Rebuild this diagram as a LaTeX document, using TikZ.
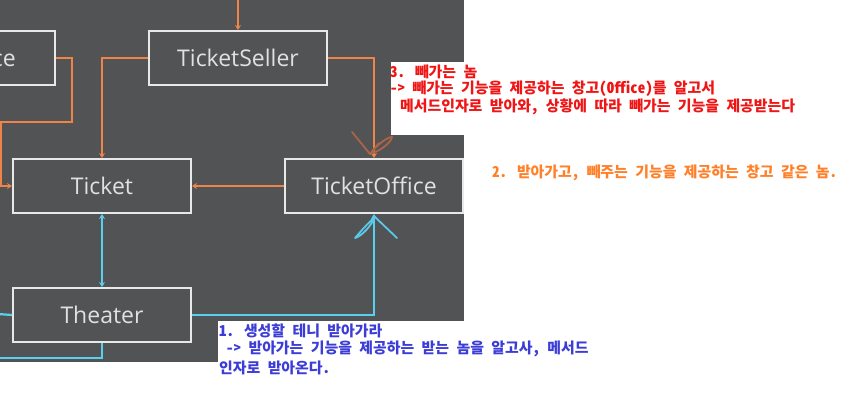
\documentclass[tikz,border=0pt]{standalone}
\usepackage{fontspec}
\setmainfont{Open Sans}
\newfontfamily\kr[CharacterWidth=Half]{Noto Sans CJK KR}
\usetikzlibrary{arrows.meta}
\definecolor{bg}{RGB}{82,83,85}
\definecolor{boxline}{RGB}{232,232,232}
\definecolor{boxtext}{RGB}{225,225,225}
\definecolor{oline}{RGB}{238,132,72}
\definecolor{cline}{RGB}{88,208,240}
\definecolor{brownmark}{RGB}{170,100,72}
\definecolor{cyanmark}{RGB}{90,200,230}
\definecolor{redtxt}{RGB}{240,20,20}
\definecolor{orangetxt}{RGB}{255,128,40}
\definecolor{bluetxt}{RGB}{60,60,215}
\tikzset{
  box/.style={draw=boxline, line width=2pt, minimum width=178, minimum height=54, inner sep=0pt,
    text=boxtext, font=\fontsize{23}{26}\selectfont},
  oconn/.style={draw=oline, line width=2.2pt},
  cconn/.style={draw=cline, line width=2.2pt},
  tip/.style={-{Stealth[length=5pt,width=6pt]}},
  note/.style={anchor=west, inner sep=0pt, font=\kr\fontsize{14.9}{17}\selectfont},
  handmark/.style={line width=1.8pt, line cap=round, line join=round}
}
\begin{document}
\begin{tikzpicture}[x=1pt,y=-1pt]
\useasboundingbox (0,0) rectangle (856,408);
\clip (0,0) rectangle (856,408);
\fill[white] (0,0) rectangle (856,408);
\fill[bg] (0,0) rectangle (464,362);

% boxes
\node[box] (au) at (-34,58) {Audience};
\node[box] (ts) at (238,58) {TicketSeller};
\node[box] (tk) at (102,186) {Ticket};
\node[box] (to) at (374,186) {TicketOffice};
\node[box] (th) at (102,315) {Theater};

\coordinate (tsin) at (238,-2);
\coordinate (cl1) at (-2,314);
\coordinate (cl2) at (-2,358);

% orange connectors
\draw[oconn, tip] (tsin) -- (ts.north);
\draw[oconn, tip] (au.east) -| (72,122) -| (0.5,186) -- (tk.west);
\draw[oconn, tip] (ts.west) -| (tk.north);
\draw[oconn, tip] (ts.east) -| (to.north);
\draw[oconn, tip] (to.west) -- (tk.east);

% cyan connectors
\draw[cconn, {Stealth[length=5pt,width=6pt]}-{Stealth[length=5pt,width=6pt]}] (tk.south) -- (th.north);
\draw[cconn, tip] (th.east) -| (to.south);
\draw[cconn] (th.west) -- (cl1);
\draw[cconn] (th.south) |- (cl2);

% white note backgrounds
\fill[white] (391,62) rectangle (464,135);
\fill[white] (218,321) rectangle (464,362);

% hand-drawn marks
\draw[handmark, brownmark] (352,132) -- (370,154);
\draw[handmark, brownmark] (370,154) .. controls (377,145) and (387,137) .. (392,137)
  .. controls (391,143) and (380,151) .. (370,154);
\draw[handmark, brownmark] (370,154) -- (379,143);
\draw[handmark, cyanmark] (375,217) -- (397,238);
\draw[handmark, cyanmark] (375,217) .. controls (369,222) and (361,231) .. (355,238)
  .. controls (362,236) and (371,226) .. (375,217);

% notes
\node[note, text=redtxt] (r1) at (390,72) {\bfseries 3. 빼가는 놈};
\node[note, text=redtxt] (r2) at (390,89) {\bfseries -> 빼가는 기능을 제공하는 창고(Office)를 알고서};
\node[note, text=redtxt] (r3) at (400,107) {\bfseries 메서드인자로 받아와, 상황에 따라 빼가는 기능을 제공받는다};
\node[note, text=orangetxt] (o1) at (492,173) {\bfseries 2. 받아가고, 빼주는 기능을 제공하는 창고 같은 놈.};
\node[note, text=bluetxt] (b1) at (219,331) {\bfseries 1. 생성할 테니 받아가라};
\node[note, text=bluetxt] (b2) at (226,349) {\bfseries -> 받아가는 기능을 제공하는 받는 놈을 알고사, 메서드};
\node[note, text=bluetxt] (b3) at (219,368) {\bfseries 인자로 받아온다.};
\end{tikzpicture}
\end{document}
